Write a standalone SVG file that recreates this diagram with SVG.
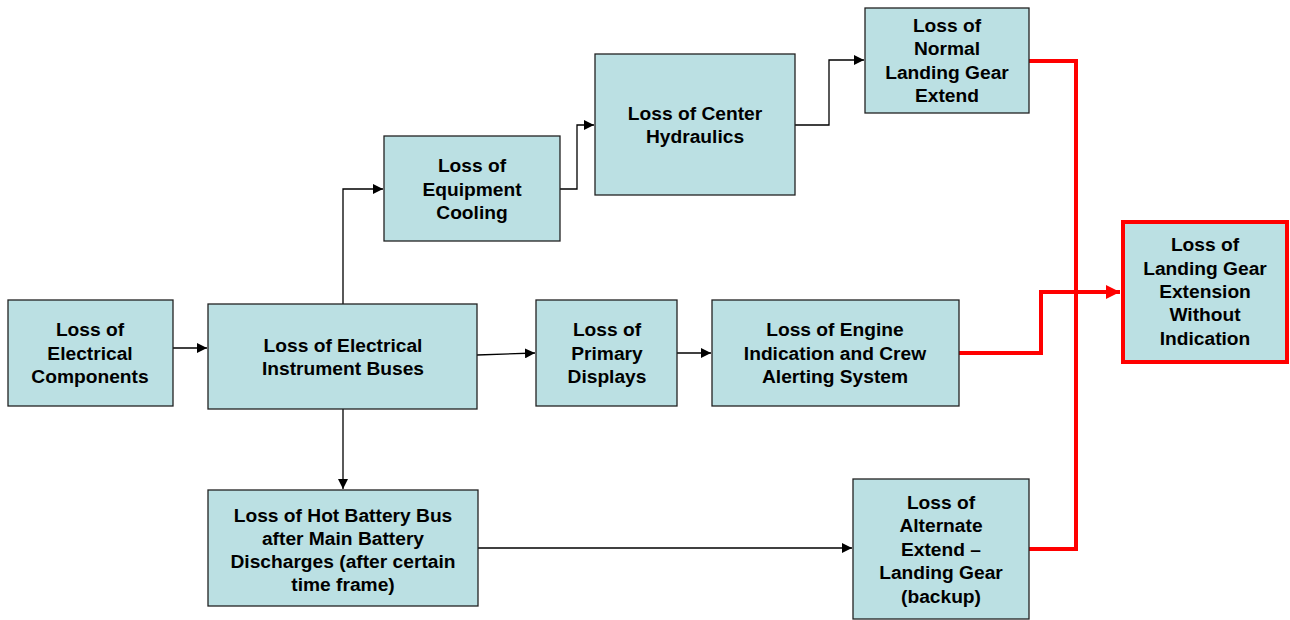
<svg xmlns="http://www.w3.org/2000/svg" width="1290" height="620" viewBox="0 0 1290 620">
<defs>
<style>
.box{fill:#BBE0E3;stroke:#222;stroke-width:1.3}
.red{fill:#BBE0E3;stroke:#FF0000;stroke-width:4}
text{font-family:"Liberation Sans",Arial,sans-serif;font-weight:bold;font-size:19.2px;fill:#000;text-anchor:middle}
.c{fill:none;stroke:#000;stroke-width:1.3}
.r{fill:none;stroke:#FF0000;stroke-width:4}
</style>
<marker id="ah" markerWidth="10" markerHeight="10" refX="10" refY="5" orient="auto" markerUnits="userSpaceOnUse">
<path d="M0,0 L10,5 L0,10 z" fill="#000"/>
</marker>
<marker id="rh" markerWidth="14" markerHeight="14" refX="14" refY="7" orient="auto" markerUnits="userSpaceOnUse">
<path d="M0,0 L14,7 L0,14 z" fill="#FF0000"/>
</marker>
</defs>
<g id="connectors">
<path class="c" d="M173,348 H207" marker-end="url(#ah)"/>
<path class="c" d="M343,304 V189 H383" marker-end="url(#ah)"/>
<path class="c" d="M477,355 L535,353" marker-end="url(#ah)"/>
<path class="c" d="M677,353 H711" marker-end="url(#ah)"/>
<path class="c" d="M343,409 V489" marker-end="url(#ah)"/>
<path class="c" d="M478,548 H852" marker-end="url(#ah)"/>
<path class="c" d="M560,189 H577 V125 H594" marker-end="url(#ah)"/>
<path class="c" d="M795,125 H829 V60 H864" marker-end="url(#ah)"/>
<path class="r" d="M1029,61 H1076 V549 H1029"/>
<path class="r" d="M959,353 H1041 V292 H1120" marker-end="url(#rh)"/>
</g>
<g id="n1"><rect class="box" x="8" y="300" width="165" height="106"/>
<text x="90" y="336">Loss of</text><text x="90" y="360">Electrical</text><text x="90" y="383">Components</text></g>
<g id="n2"><rect class="box" x="208" y="304" width="269" height="105"/>
<text x="343" y="352">Loss of Electrical</text><text x="343" y="375">Instrument Buses</text></g>
<g id="n3"><rect class="box" x="384" y="136" width="176" height="105"/>
<text x="472" y="172">Loss of</text><text x="472" y="196">Equipment</text><text x="472" y="219">Cooling</text></g>
<g id="n4"><rect class="box" x="595" y="54" width="200" height="141"/>
<text x="695" y="120">Loss of Center</text><text x="695" y="143">Hydraulics</text></g>
<g id="n5"><rect class="box" x="865" y="8" width="164" height="105"/>
<text x="947" y="32">Loss of</text><text x="947" y="55">Normal</text><text x="947" y="79">Landing Gear</text><text x="947" y="102">Extend</text></g>
<g id="n6"><rect class="box" x="536" y="300" width="141" height="106"/>
<text x="607" y="336">Loss of</text><text x="607" y="360">Primary</text><text x="607" y="383">Displays</text></g>
<g id="n7"><rect class="box" x="712" y="300" width="247" height="106"/>
<text x="835" y="336">Loss of Engine</text><text x="835" y="360">Indication and Crew</text><text x="835" y="383">Alerting System</text></g>
<g id="n8"><rect class="box" x="208" y="490" width="270" height="116"/>
<text x="343" y="522">Loss of Hot Battery Bus</text><text x="343" y="545">after Main Battery</text><text x="343" y="568">Discharges (after certain</text><text x="343" y="591">time frame)</text></g>
<g id="n9"><rect class="box" x="853" y="479" width="176" height="140"/>
<text x="941" y="509">Loss of</text><text x="941" y="532">Alternate</text><text x="941" y="556">Extend –</text><text x="941" y="579">Landing Gear</text><text x="941" y="603">(backup)</text></g>
<g id="n10"><rect class="red" x="1123" y="222" width="164" height="140"/>
<text x="1205" y="251">Loss of</text><text x="1205" y="275">Landing Gear</text><text x="1205" y="298">Extension</text><text x="1205" y="321">Without</text><text x="1205" y="345">Indication</text></g>
</svg>
